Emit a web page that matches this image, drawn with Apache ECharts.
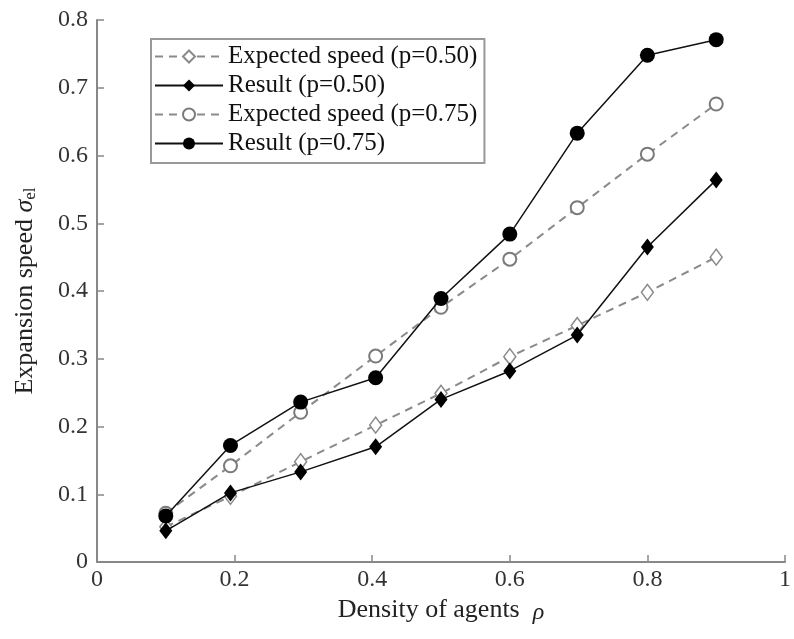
<!DOCTYPE html>
<html>
<head>
<meta charset="utf-8">
<script src="https://cdn.jsdelivr.net/npm/echarts@6/dist/echarts.min.js"></script>
<style>
  html, body { margin: 0; padding: 0; background: #fff; }
  #chart { width: 794px; height: 639px; }
</style>
</head>
<body>
<div id="chart"></div>
<script>
// density of agents (x)
const density = [0.1, 0.194, 0.296, 0.405, 0.5, 0.6, 0.698, 0.8, 0.9]
// expansion speed values
const expected050 = [0.052, 0.097, 0.148, 0.202, 0.249, 0.303, 0.349, 0.398, 0.450]
const result050 = [0.046, 0.102, 0.133, 0.170, 0.240, 0.282, 0.335, 0.465, 0.564]
const expected075 = [0.072, 0.142, 0.221, 0.304, 0.376, 0.447, 0.523, 0.602, 0.676]
const result075 = [0.068, 0.172, 0.236, 0.272, 0.389, 0.484, 0.633, 0.748, 0.771]
const seriesNames = [
  'Expected speed (p=0.50)',
  'Result (p=0.50)',
  'Expected speed (p=0.75)',
  'Result (p=0.75)'
]

const font = '"Liberation Serif", "DejaVu Serif", serif'
const pair = ys => density.map((x, i) => [x, ys[i]])

const dashedLine = { color: '#8a8a8a', width: 2, type: [8, 6] }
const solidLine = { color: '#111', width: 1.5 }

const chart = echarts.init(document.getElementById('chart'), null, { renderer: 'canvas' })
chart.setOption({
  animation: false,
  backgroundColor: '#fff',
  textStyle: { fontFamily: font },
  grid: { left: 97, right: 5, top: 20, bottom: 77 },
  legend: {
    orient: 'vertical',
    left: 151,
    top: 39,
    padding: [5, 7, 7, 3],
    borderColor: '#999',
    borderWidth: 2,
    itemWidth: 68,
    itemHeight: 15,
    itemGap: 4,
    textStyle: { fontFamily: font, fontSize: 25, lineHeight: 25, color: '#111' },
    data: seriesNames
  },
  xAxis: {
    type: 'value',
    min: 0,
    max: 1,
    interval: 0.2,
    name: '{a|Density of agents  }{g|ρ}',
    nameLocation: 'middle',
    nameGap: 18,
    nameTextStyle: {
      rich: {
        a: { fontFamily: font, fontSize: 26, color: '#222' },
        g: { fontFamily: font, fontSize: 24, fontStyle: 'italic', color: '#222', padding: [6, 0, 0, 0] }
      }
    },
    axisLine: { lineStyle: { color: '#888', width: 2 } },
    axisTick: { inside: true, length: 7, lineStyle: { color: '#888', width: 1.5 } },
    axisLabel: { fontFamily: font, fontSize: 24, color: '#333', margin: 6 },
    splitLine: { show: false }
  },
  yAxis: {
    type: 'value',
    min: 0,
    max: 0.8,
    interval: 0.1,
    name: '{a|Expansion speed }{g|σ}{s|el}',
    nameLocation: 'middle',
    nameGap: 58,
    nameTextStyle: {
      rich: {
        a: { fontFamily: font, fontSize: 26, color: '#222', lineHeight: 28 },
        g: { fontFamily: font, fontSize: 26, fontStyle: 'italic', color: '#222', lineHeight: 28 },
        s: { fontFamily: font, fontSize: 17, color: '#222', verticalAlign: 'bottom', lineHeight: 28, padding: [8, 0, 0, 0] }
      }
    },
    axisLine: { show: true, lineStyle: { color: '#888', width: 2 } },
    axisTick: { show: true, inside: true, length: 7, lineStyle: { color: '#888', width: 1.5 } },
    axisLabel: { fontFamily: font, fontSize: 24, color: '#333', margin: 9 },
    splitLine: { show: false }
  },
  series: [
    {
      name: seriesNames[0],
      type: 'line',
      data: pair(expected050),
      symbol: 'diamond',
      symbolSize: [12, 16],
      lineStyle: dashedLine,
      itemStyle: { color: '#fff', borderColor: '#8a8a8a', borderWidth: 1.5 },
      z: 2
    },
    {
      name: seriesNames[1],
      type: 'line',
      data: pair(result050),
      symbol: 'diamond',
      symbolSize: [13, 17],
      lineStyle: solidLine,
      itemStyle: { color: '#000', borderColor: '#000', borderWidth: 0 },
      z: 3
    },
    {
      name: seriesNames[2],
      type: 'line',
      data: pair(expected075),
      symbol: 'circle',
      symbolSize: 13,
      lineStyle: dashedLine,
      itemStyle: { color: '#fff', borderColor: '#7a7a7a', borderWidth: 2 },
      z: 2
    },
    {
      name: seriesNames[3],
      type: 'line',
      data: pair(result075),
      symbol: 'circle',
      symbolSize: 15,
      lineStyle: solidLine,
      itemStyle: { color: '#000', borderColor: '#000', borderWidth: 0 },
      z: 3
    }
  ]
})
</script>
</body>
</html>
